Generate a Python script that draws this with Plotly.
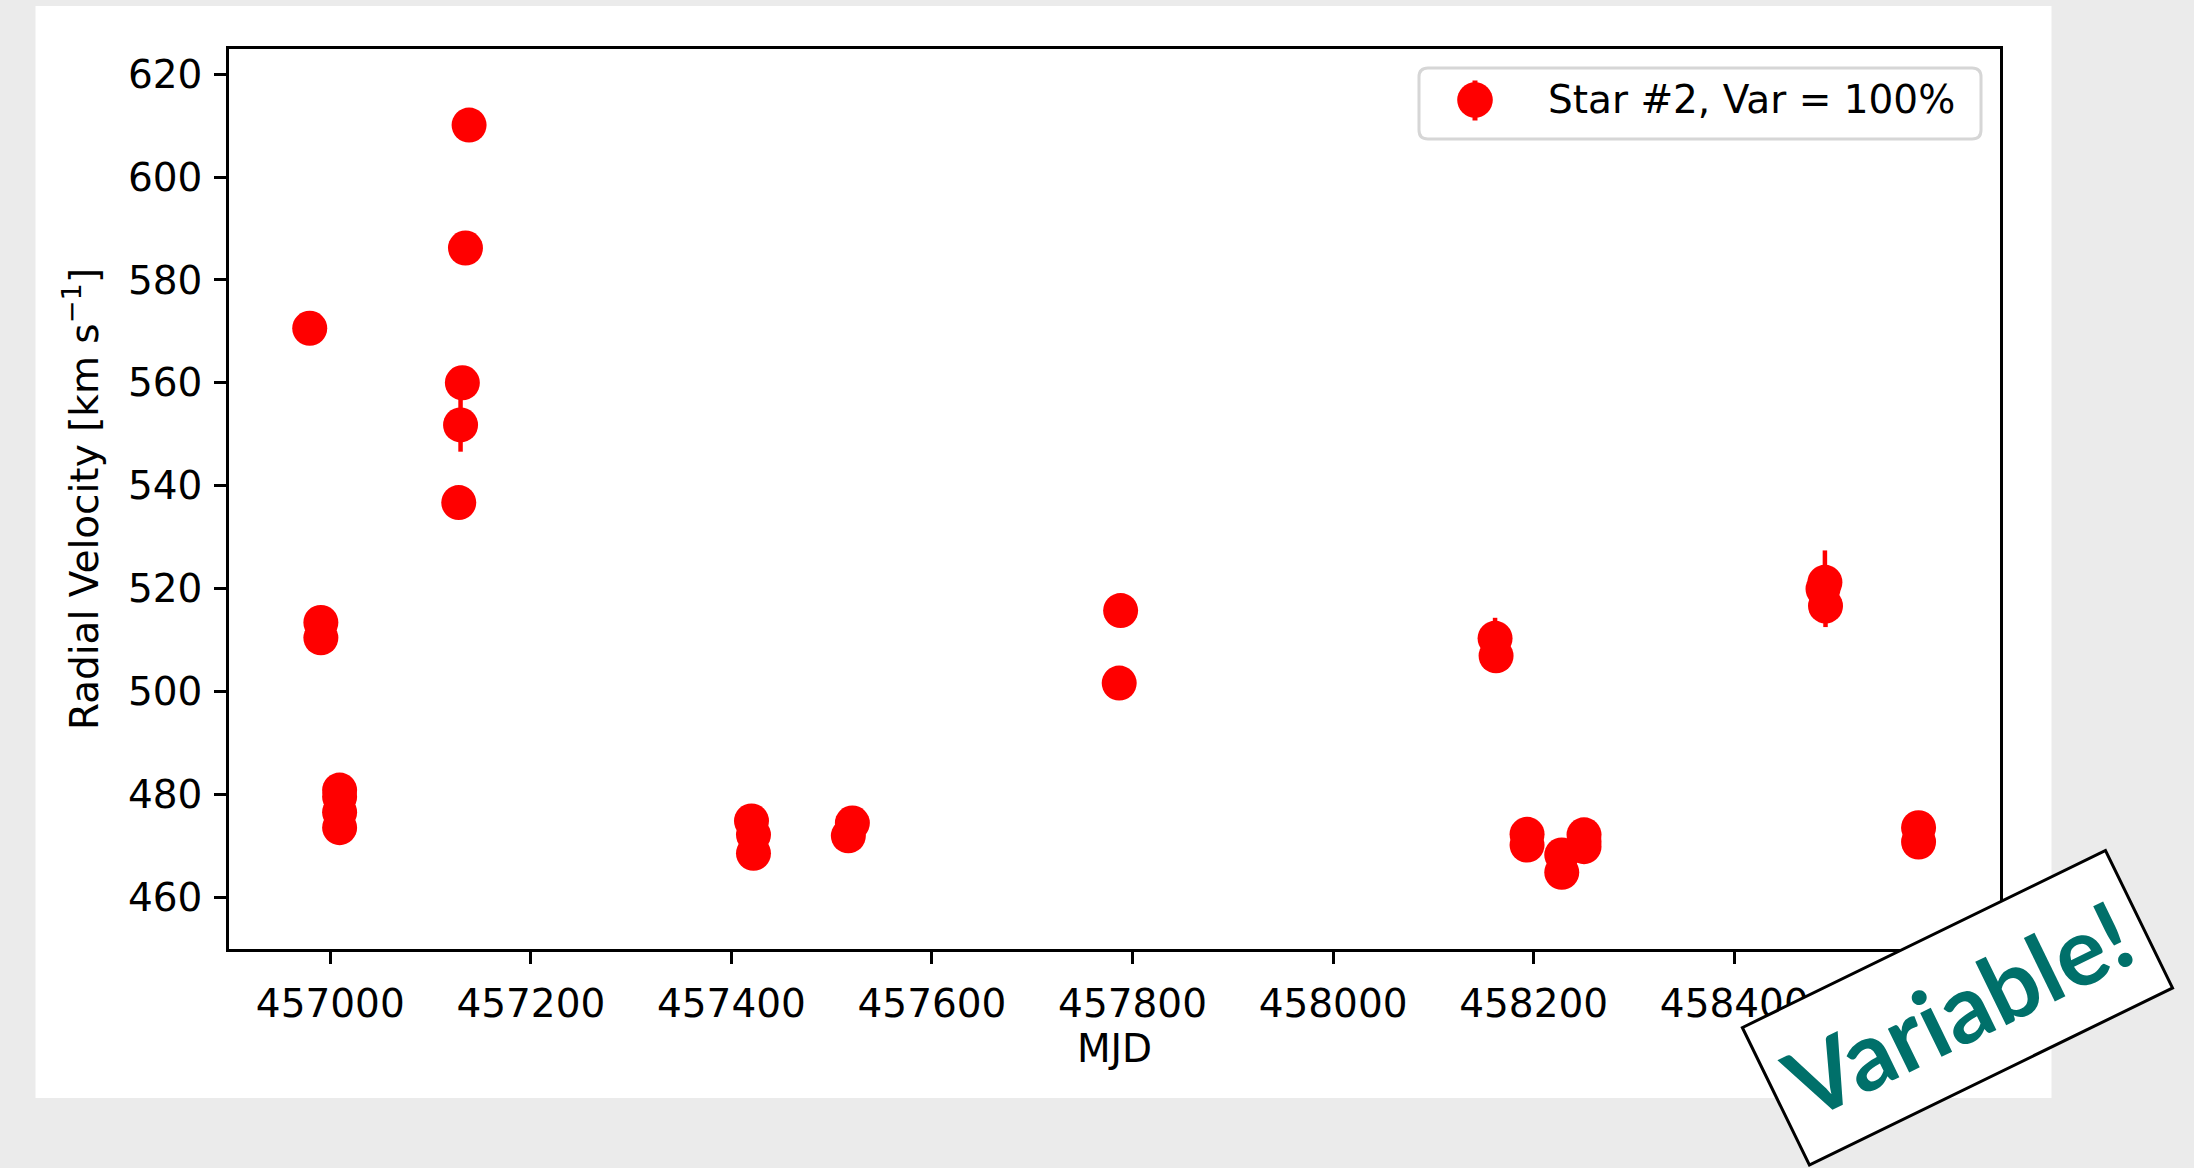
import plotly.graph_objects as go

# Radial-velocity epochs for star #2
mjd = [456979.5, 456990.6, 456990.6,
       457009.3, 457009.3, 457009.3, 457009.3,
       457128.1, 457129.9, 457131.7, 457134.8, 457138.4,
       457420.0, 457422.0, 457422.0,
       457520.6, 457516.6,
       457788.1, 457786.7,
       458161.5, 458162.5,
       458193.4, 458193.4,
       458228.0, 458228.0,
       458250.2, 458250.2, 458250.2,
       458490.4, 458488.5, 458491.0,
       458583.8, 458583.8]
rv = [570.6, 513.4, 510.4,
      480.8, 479.5, 476.5, 473.5,
      536.7, 551.8, 560.0, 586.2, 610.1,
      474.8, 472.1, 468.5,
      474.4, 471.9,
      515.7, 501.6,
      510.3, 506.9,
      472.2, 470.1,
      468.2, 464.8,
      472.1, 470.8, 469.8,
      521.2, 519.9, 516.6,
      473.5, 470.7]
rv_err = [2.0, 2.0, 2.0,
          1.5, 1.5, 1.5, 1.5,
          2.5, 5.2, 2.5, 2.5, 2.5,
          1.5, 1.5, 1.5,
          1.5, 1.5,
          2.0, 2.0,
          4.0, 2.5,
          1.5, 1.5,
          1.5, 1.5,
          1.5, 1.5, 1.5,
          6.2, 3.0, 4.1,
          1.5, 1.5]

x_ticks = [457000, 457200, 457400, 457600, 457800, 458000, 458200, 458400, 458600]
y_ticks = [460, 480, 500, 520, 540, 560, 580, 600, 620]
legend_label = "Star #2, Var = 100%"
stamp_text = "Variable!"

W, H = 2194, 1168
L, R, T, B = 229, 2000, 49, 949
FONT = "DejaVu Sans"
RED = "#ff0000"


def px(x):
    return (x - L) / (R - L)


def py(y):
    return (B - y) / (B - T)


fig = go.Figure()
fig.add_trace(go.Scatter(
    x=mjd, y=rv, mode="markers", name=legend_label, showlegend=False,
    marker=dict(color=RED, size=35, line=dict(width=0)),
    error_y=dict(type="data", array=rv_err, visible=True,
                 color=RED, thickness=4.5, width=0),
))

shapes = [
    # white figure canvas on the grey page
    dict(type="rect", xref="paper", yref="paper", layer="below",
         x0=px(35.5), x1=px(2051.5), y0=py(1098), y1=py(6),
         fillcolor="white", line=dict(width=0)),
]

# legend frame with rounded corners
lx0, lx1, ly0, ly1, rr = 1419, 1981, 68, 139, 9
path = (f"M {px(lx0 + rr)},{py(ly0)} L {px(lx1 - rr)},{py(ly0)} "
        f"Q {px(lx1)},{py(ly0)} {px(lx1)},{py(ly0 + rr)} "
        f"L {px(lx1)},{py(ly1 - rr)} "
        f"Q {px(lx1)},{py(ly1)} {px(lx1 - rr)},{py(ly1)} "
        f"L {px(lx0 + rr)},{py(ly1)} "
        f"Q {px(lx0)},{py(ly1)} {px(lx0)},{py(ly1 - rr)} "
        f"L {px(lx0)},{py(ly0 + rr)} "
        f"Q {px(lx0)},{py(ly0)} {px(lx0 + rr)},{py(ly0)} Z")
shapes.append(dict(type="path", xref="paper", yref="paper", layer="above",
                   path=path, fillcolor="white",
                   line=dict(color="#d6d6d6", width=3)))
# legend handle: marker with its error bar
mx, my, mr = 1475, 100, 17.8
shapes.append(dict(type="line", xref="paper", yref="paper", layer="above",
                   x0=px(mx), x1=px(mx), y0=py(my - 19.5), y1=py(my + 20.5),
                   line=dict(color=RED, width=5)))
shapes.append(dict(type="circle", xref="paper", yref="paper", layer="above",
                   x0=px(mx - mr), x1=px(mx + mr), y0=py(my + mr), y1=py(my - mr),
                   fillcolor=RED, line=dict(width=0)))

annotations = [
    dict(xref="paper", yref="paper", x=px(1546), y=py(100),
         xanchor="left", yanchor="middle", showarrow=False,
         text=legend_label, font=dict(family=FONT, size=39, color="black")),
    dict(xref="paper", yref="paper", x=px(1957), y=py(1008),
         xanchor="center", yanchor="middle", showarrow=False,
         text=stamp_text, textangle=-26, width=401, height=150,
         align="center", valign="middle",
         bgcolor="white", bordercolor="black", borderwidth=3, borderpad=0,
         font=dict(family="Lato", size=95, color="#00706a", weight=700)),
]

axis_common = dict(
    showline=True, mirror=True, linecolor="black", linewidth=2.5,
    ticks="outside", ticklen=12, tickwidth=2.5, tickcolor="black",
    showgrid=False, zeroline=False,
    tickfont=dict(family=FONT, size=39, color="black"),
)

fig.update_layout(
    width=W, height=H,
    margin=dict(l=L, r=W - R, t=T, b=H - B, autoexpand=False),
    paper_bgcolor="#ebebeb", plot_bgcolor="white",
    font=dict(family=FONT, size=39, color="black"),
    xaxis=dict(axis_common, range=[456899, 458665], tickvals=x_ticks,
               tickformat="d", ticklabelstandoff=6,
               title=dict(text="MJD", standoff=10,
                          font=dict(family=FONT, size=39, color="black"))),
    yaxis=dict(axis_common, range=[449.9, 624.9], tickvals=y_ticks,
               ticklabelstandoff=4,
               title=dict(text="Radial Velocity [km s<sup>\u22121</sup>]", standoff=18,
                          font=dict(family=FONT, size=39, color="black"))),
    shapes=shapes, annotations=annotations,
    showlegend=False,
)

fig.write_html("out.html")
